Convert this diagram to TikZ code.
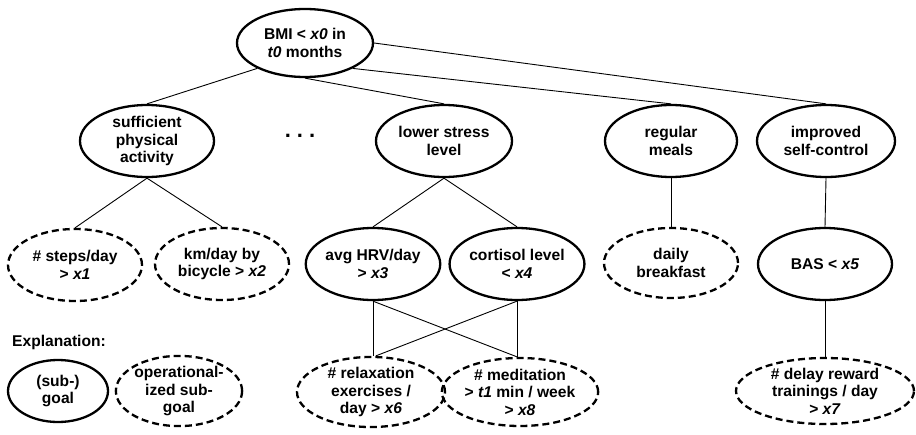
\documentclass[tikz,border=0pt]{standalone}
\usepackage{fontspec}
\setmainfont{Liberation Sans}
\usetikzlibrary{shapes.geometric}
\begin{document}
\begin{tikzpicture}[x=1pt,y=-1pt,
  goal/.style={ellipse,draw,line width=2.3pt,inner sep=0pt,align=center,
    font=\fontsize{15.6}{17.5}\selectfont\bfseries},
  opgoal/.style={goal,dash pattern=on 7pt off 4pt},
  link/.style={line width=0.9pt}]
\useasboundingbox (0,0) rectangle (916,434);

% top goal
\node[goal,minimum width=136pt,minimum height=68pt] (bmi) at (305,43) {BMI < \textit{x0} in\\\textit{t0} months};

% sub-goals
\node[goal,minimum width=134pt,minimum height=72pt] (phys) at (147,141) {sufficient\\physical\\activity};
\node[goal,minimum width=136pt,minimum height=72pt] (stress) at (444,141) {lower stress\\level};
\node[goal,minimum width=132pt,minimum height=72pt] (meals) at (671,141) {regular\\meals};
\node[goal,minimum width=138pt,minimum height=72pt] (self) at (826,141) {improved\\self-control};
\node[font=\fontsize{22}{22}\selectfont\bfseries] (dots) at (300,136) {.\hspace{6pt}.\hspace{6pt}.};

% operationalized goals and measures
\node[opgoal,minimum width=134pt,minimum height=72pt] (steps) at (75,265) {\# steps/day\\> \textit{x1}};
\node[opgoal,minimum width=134pt,minimum height=72pt] (bike) at (222,264) {km/day by\\bicycle > \textit{x2}};
\node[goal,minimum width=134pt,minimum height=72pt] (hrv) at (373,264) {avg HRV/day\\> \textit{x3}};
\node[goal,minimum width=132pt,minimum height=72pt] (cort) at (517,264) {cortisol level\\< \textit{x4}};
\node[opgoal,minimum width=134pt,minimum height=70pt] (bfast) at (671,263) {daily\\breakfast};
\node[goal,minimum width=134pt,minimum height=72pt] (bas) at (825,264) {BAS < \textit{x5}};

\node[opgoal,minimum width=148pt,minimum height=68pt] (relax) at (371,392) {\# relaxation\\exercises /\\day > \textit{x6}};
\node[opgoal,minimum width=142pt,minimum height=68pt] (medit) at (520,392) {\# meditation\\> \textit{t1} min / week\\> \textit{x8}};
\node[opgoal,minimum width=178pt,minimum height=66pt] (delay) at (825,391) {\# delay reward\\trainings / day\\> \textit{x7}};

% legend
\node[anchor=west,font=\fontsize{15.6}{17}\selectfont\bfseries,inner sep=0pt] (expl) at (12,342) {Explanation:};
\node[goal,minimum width=100pt,minimum height=62pt] (lgoal) at (58,391) {(sub-)\\goal};
\node[opgoal,minimum width=122pt,minimum height=64pt] (lop) at (179,391) {operational-\\ized sub-\\goal};

% connections
\draw[link] (bmi.208) -- (phys.north);
\draw[link] (bmi.south) -- (stress.north);
\draw[link] (bmi.-28) -- (meals.north);
\draw[link] (bmi.east) -- (self.north);

\draw[link] (phys.south) -- (steps.north);
\draw[link] (phys.south) -- (bike.north);
\draw[link] (stress.south) -- (hrv.north);
\draw[link] (stress.south) -- (cort.north);
\draw[link] (meals.south) -- (bfast.north);
\draw[link] (self.south) -- (bas.north);

\draw[link] (hrv.south) -- (relax.north -| hrv.south);
\draw[link] (hrv.south) -- (medit.north -| cort.south);
\draw[link] (cort.south) -- (medit.north -| cort.south);
\draw[link] (cort.south) -- ([xshift=5pt]relax.north);
\draw[link] (bas.south) -- (delay.north);
\end{tikzpicture}
\end{document}
